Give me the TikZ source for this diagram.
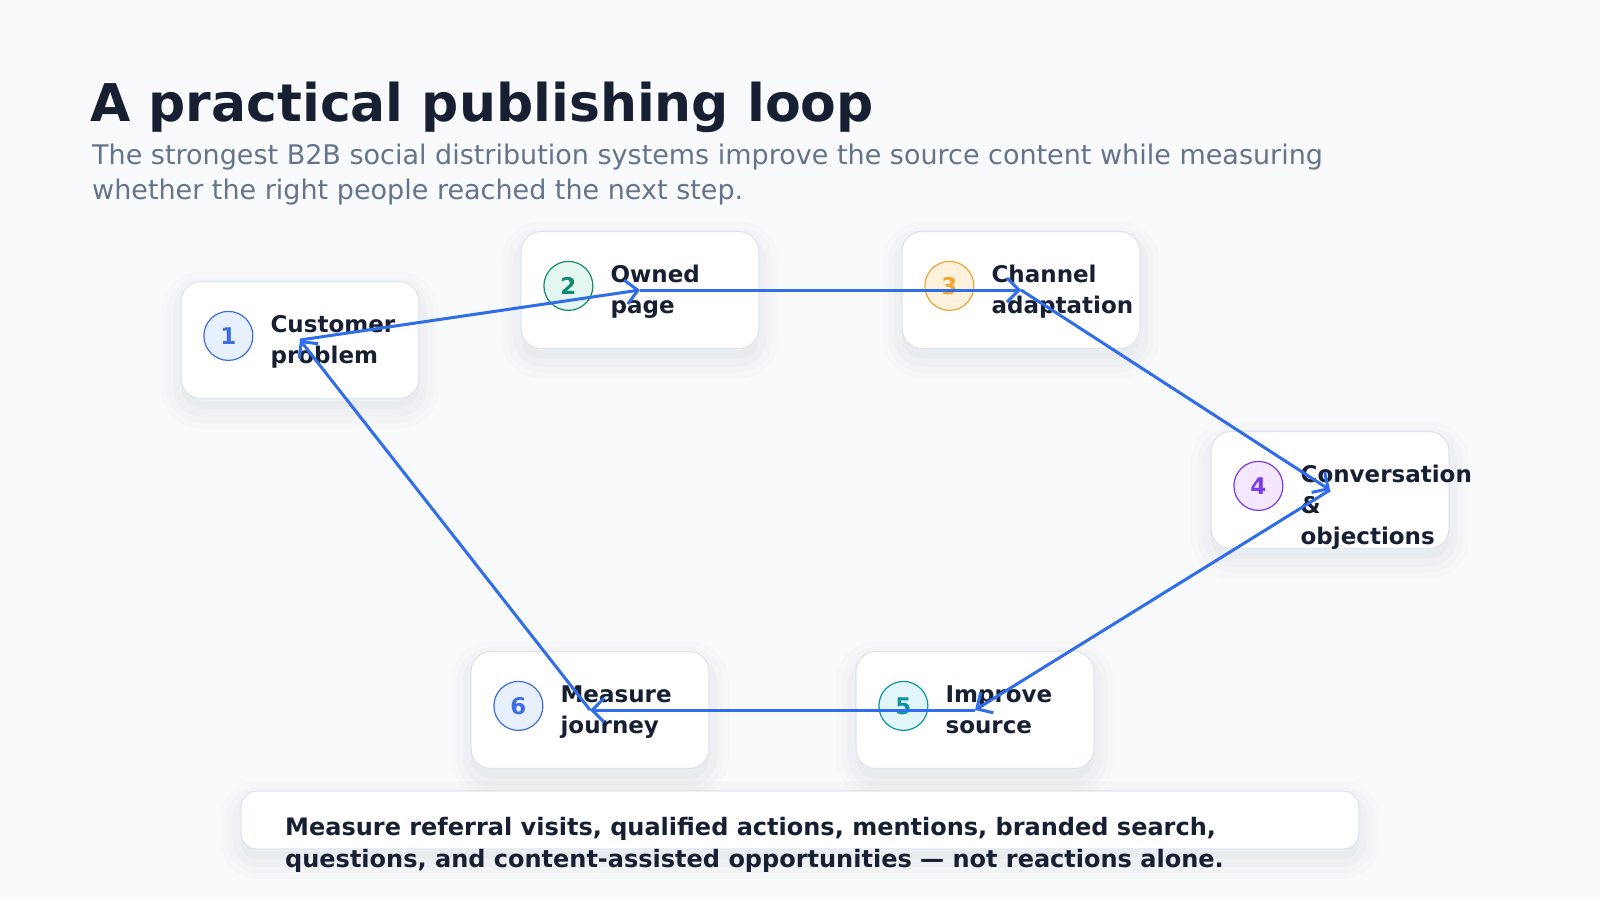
\documentclass[tikz,border=0pt]{standalone}
\usepackage{fontspec}
\setmainfont{DejaVu Sans}
\usetikzlibrary{arrows.meta,shadows}

\definecolor{pagebg}{HTML}{F8FAFC}
\definecolor{ink}{HTML}{172033}
\definecolor{muted}{HTML}{64748B}
\definecolor{cardline}{HTML}{DFE6F1}
\definecolor{shade}{HTML}{1E2A44}
\definecolor{flowblue}{HTML}{2F6DEB}
\definecolor{blueline}{HTML}{3B6FE0}\definecolor{bluefill}{HTML}{E8F0FE}
\definecolor{greenline}{HTML}{138A6C}\definecolor{greenfill}{HTML}{E3F6F0}
\definecolor{amberline}{HTML}{F0A531}\definecolor{amberfill}{HTML}{FEF2DC}
\definecolor{violetline}{HTML}{7C3AED}\definecolor{violetfill}{HTML}{F3E8FF}
\definecolor{tealline}{HTML}{0E93A5}\definecolor{tealfill}{HTML}{E0F6F8}

\tikzset{
  softshadow/.style={
    general shadow={draw=shade, draw opacity=0.010, line width=40pt, shadow yshift=-10pt},
    general shadow={draw=shade, draw opacity=0.012, line width=28pt, shadow yshift=-10pt},
    general shadow={draw=shade, draw opacity=0.015, line width=16pt, shadow yshift=-10pt},
    general shadow={fill=shade, fill opacity=0.02, shadow yshift=-10pt}},
  card/.style={draw=cardline, line width=1.2pt, fill=white, rounded corners=20pt,
    minimum width=238pt, minimum height=117pt, inner sep=0pt, softshadow},
  badge/.style={circle, minimum size=49pt, inner sep=0pt, line width=1.2pt,
    font=\fontsize{23}{23}\selectfont\bfseries},
  steptext/.style={anchor=base west, align=left, inner sep=0pt, text=ink,
    font=\fontsize{23}{31}\selectfont\bfseries},
  flow/.style={draw=flowblue, line width=3pt,
    -{Straight Barb[length=12pt,width=24pt,line width=3pt]}}
}

\begin{document}
\begin{tikzpicture}[x=1pt,y=-1pt]
\fill[pagebg] (0,0) rectangle (1600,900);
\useasboundingbox (0,0) rectangle (1600,900);

% heading (base = last line)
\node[anchor=base west, inner sep=0pt, text=ink, font=\fontsize{52}{60}\selectfont\bfseries]
  (title) at (90,121) {A practical publishing loop};
\node[anchor=base west, inner sep=0pt, text=muted, align=left, font=\fontsize{27}{35}\selectfont]
  (subtitle) at (92,199) {The strongest B2B social distribution systems improve the source content while measuring\\whether the right people reached the next step.};

% cards
\node[card] (box1) at (300,340) {};
\node[card] (box2) at (640,290) {};
\node[card] (box3) at (1021,290) {};
\node[card] (box4) at (1330,490) {};
\node[card] (box5) at (975,710) {};
\node[card] (box6) at (590,710) {};

% badges
\node[badge, draw=blueline, fill=bluefill, text=blueline] (n1) at ([xshift=48pt,yshift=-55pt]box1.north west) {1};
\node[badge, draw=greenline, fill=greenfill, text=greenline] (n2) at ([xshift=48pt,yshift=-55pt]box2.north west) {2};
\node[badge, draw=amberline, fill=amberfill, text=amberline] (n3) at ([xshift=48pt,yshift=-55pt]box3.north west) {3};
\node[badge, draw=violetline, fill=violetfill, text=violetline] (n4) at ([xshift=48pt,yshift=-55pt]box4.north west) {4};
\node[badge, draw=tealline, fill=tealfill, text=tealline] (n5) at ([xshift=48pt,yshift=-55pt]box5.north west) {5};
\node[badge, draw=blueline, fill=bluefill, text=blueline] (n6) at ([xshift=48pt,yshift=-55pt]box6.north west) {6};

% labels
\node[steptext] (t1) at ([xshift=90pt,yshift=-83pt]box1.north west) {Customer\\problem};
\node[steptext] (t2) at ([xshift=90pt,yshift=-83pt]box2.north west) {Owned\\page};
\node[steptext] (t3) at ([xshift=90pt,yshift=-83pt]box3.north west) {Channel\\adaptation};
\node[steptext] (t4) at ([xshift=90pt,yshift=-114pt]box4.north west) {Conversation\\\&\\objections};
\node[steptext] (t5) at ([xshift=90pt,yshift=-83pt]box5.north west) {Improve\\source};
\node[steptext] (t6) at ([xshift=90pt,yshift=-83pt]box6.north west) {Measure\\journey};

% loop
\draw[flow] (box1.center) -- (box2.center);
\draw[flow] (box2.center) -- (box3.center);
\draw[flow] (box3.center) -- (box4.center);
\draw[flow] (box4.center) -- (box5.center);
\draw[flow] (box5.center) -- (box6.center);
\draw[flow] (box6.center) -- (box1.center);

% footer note
\node[card, minimum width=1118pt, minimum height=58pt, rounded corners=16pt] (note) at (800,820) {};
\node[steptext, font=\fontsize{24}{32}\selectfont\bfseries] (notetext) at (285,867)
  {Measure referral visits, qualified actions, mentions, branded search,\\questions, and content-assisted opportunities — not reactions alone.};
\end{tikzpicture}
\end{document}
